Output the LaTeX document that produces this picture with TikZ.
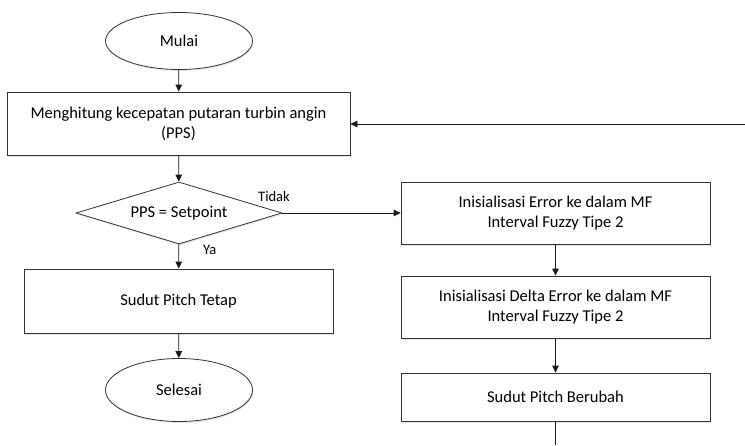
\documentclass[tikz,border=0pt]{standalone}
\usepackage{fontspec}
\setmainfont{Carlito}
\usetikzlibrary{shapes.geometric,arrows.meta,shadows}
\begin{document}
\begin{tikzpicture}[x=1pt,y=-1pt,
  base/.style={draw=black!80, line width=0.8pt, fill=white, align=center,
    inner sep=0pt, font=\fontsize{16.5}{20}\selectfont,
    drop shadow={shadow xshift=1pt, shadow yshift=-1.5pt, opacity=0.25, fill=blue!25!gray!60}},
  proc/.style={base, rectangle, minimum width=309pt, minimum height=62pt},
  term/.style={base, ellipse, minimum width=147pt, minimum height=57pt},
  decide/.style={base, diamond, aspect=3.3, minimum width=206pt, minimum height=62pt},
  arr/.style={-{Triangle[length=7pt,width=6.5pt]}, line width=0.8pt, draw=black!90},
  lbl/.style={font=\fontsize{14.5}{17}\selectfont, inner sep=0pt}]
  \useasboundingbox (0,0) rectangle (745,445);

  % left column
  \node[term] (mulai) at (179,41) {Mulai};
  \node[proc, minimum width=343pt, minimum height=63pt] (hitung) at (178.5,123.5)
    {Menghitung kecepatan putaran turbin angin\\(PPS)};
  \node[decide] (cek) at (179,213) {PPS = Setpoint};
  \node[proc, minimum height=64pt] (tetap) at (178.5,301) {Sudut Pitch Tetap};
  \node[term, minimum height=63pt] (selesai) at (179,390) {Selesai};

  % right column
  \node[proc] (err) at (555.5,213) {Inisialisasi Error ke dalam MF\\Interval Fuzzy Tipe 2};
  \node[proc] (derr) at (555.5,307) {Inisialisasi Delta Error ke dalam MF\\Interval Fuzzy Tipe 2};
  \node[proc, minimum height=48pt] (ubah) at (555.5,397) {Sudut Pitch Berubah};

  \coordinate (back) at (745,124);
  \coordinate (down) at (555.5,445);

  % connectors
  \draw[arr] (mulai) -- (hitung);
  \draw[arr] (hitung) -- (cek);
  \draw[arr] (cek) -- (tetap);
  \draw[arr] (tetap) -- (selesai);
  \draw[arr] (cek.east) -- (err.west);
  \draw[arr] (err) -- (derr);
  \draw[arr] (derr) -- (ubah);
  \draw[line width=0.8pt, draw=black!90] (ubah.south) -- (down);
  \draw[arr] (back) -- (back -| hitung.east);

  % branch labels
  \node[lbl, anchor=west] (tidak) at (258,197) {Tidak};
  \node[lbl, anchor=west] (ya) at (203,250) {Ya};
\end{tikzpicture}
\end{document}
